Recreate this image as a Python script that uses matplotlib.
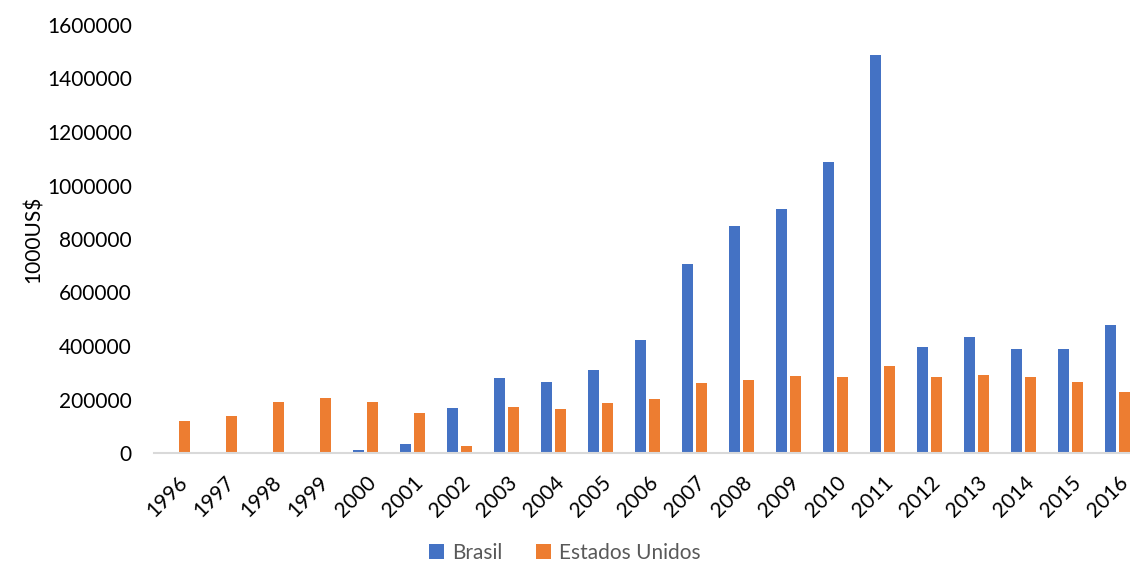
import matplotlib
matplotlib.use('Agg')
import matplotlib.pyplot as plt
import numpy as np

plt.rcParams['font.family'] = ['Lato', 'DejaVu Sans']

years = [str(y) for y in range(1996, 2017)]
brasil = [0, 0, 0, 0, 13000, 32000, 170000, 281000, 267000, 312000, 423000,
          707000, 850000, 911000, 1087000, 1486000, 395000, 433000, 389000, 387000, 480000]
eua = [121000, 138000, 189000, 204000, 189000, 149000, 28000, 171000, 165000, 188000, 202000,
       262000, 273000, 289000, 284000, 326000, 284000, 292000, 284000, 266000, 228000]

fig = plt.figure(figsize=(11.3, 5.62), dpi=100)
ax = fig.add_axes([154/1130, 1 - 453/562, 987/1130, (453 - 25)/562])

x = np.arange(len(years))
w = 0.23
ax.bar(x - 0.145, brasil, w, color='#4472C4', label='Brasil')
ax.bar(x + 0.145, eua, w, color='#ED7D31', label='Estados Unidos')

ax.set_xlim(-0.5, len(years) - 0.5)
ax.set_ylim(0, 1600000)
ax.set_yticks(np.arange(0, 1600001, 200000))
ax.set_yticklabels([str(v) for v in range(0, 1600001, 200000)])
ax.set_xticks(x)
ax.set_xticklabels(years, rotation=45, ha='right', rotation_mode='anchor')
ax.tick_params(length=0, labelsize=15, colors='#000000')
ax.tick_params(axis='y', pad=16)
ax.tick_params(axis='x', pad=14)

for s in ['top', 'right', 'left']:
    ax.spines[s].set_visible(False)
ax.spines['bottom'].set_color('#d9d9d9')
ax.spines['bottom'].set_linewidth(1.5)

ax.set_ylabel('1000US$', fontsize=15, labelpad=2)

fig.legend(loc='lower center', bbox_to_anchor=(0.5, -0.035), ncol=2, frameon=False,
           fontsize=15, handlelength=0.7, handleheight=0.7, columnspacing=1.6,
           handletextpad=0.4, labelcolor='#595959')

fig.savefig('out.png', dpi=100)
